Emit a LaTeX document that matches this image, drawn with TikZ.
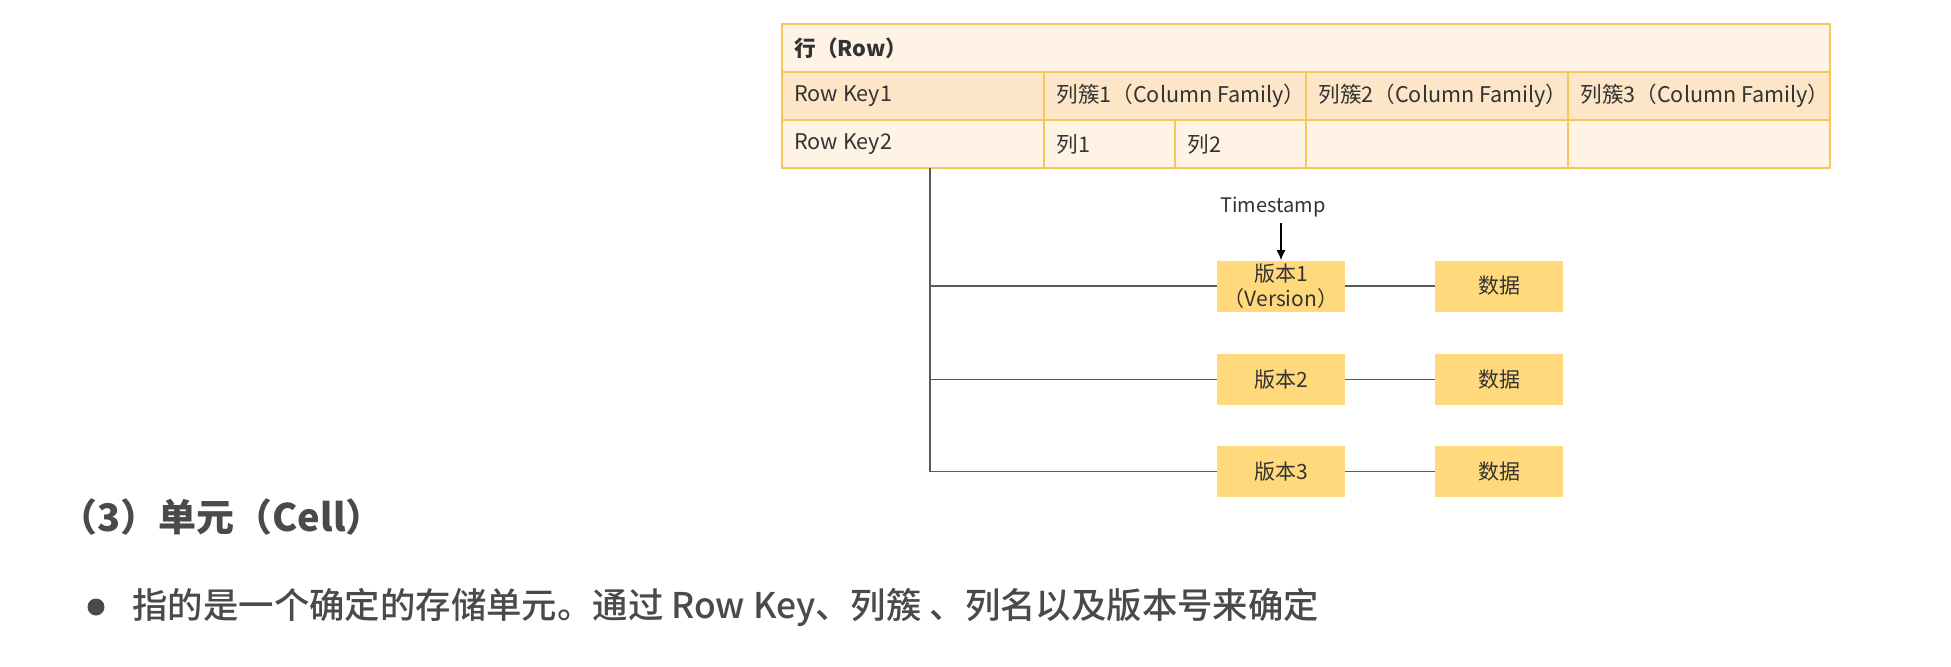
\documentclass[tikz,border=0pt]{standalone}
\usepackage{fontspec}
\setmainfont{Noto Sans CJK SC}
\newfontfamily\cjkmed{Noto Sans CJK SC Medium}
\usetikzlibrary{arrows.meta}
\definecolor{bord}{HTML}{F7C65A}
\definecolor{hdrfill}{HTML}{FFF3E6}
\definecolor{rkfill}{HTML}{FDE6C8}
\definecolor{vfill}{HTML}{FFD97C}
\definecolor{txt}{HTML}{333333}
\definecolor{lin}{HTML}{5A5A5A}
\definecolor{headc}{HTML}{4A4A4A}
\begin{document}
\begin{tikzpicture}[x=0.5pt,y=-0.5pt,
  font=\fontsize{10.8}{12}\selectfont, text=txt,
  cell/.style={draw=bord, line width=1pt, anchor=north west, minimum height=24pt, inner sep=0pt, outer sep=0pt},
  ctext/.style={anchor=west, inner sep=0pt},
  vbox/.style={fill=vfill, minimum width=64pt, minimum height=25.5pt, inner sep=1pt, align=center, font=\fontsize{10.5}{12.5}\selectfont},
  conn/.style={draw=lin, line width=0.85pt}]
\useasboundingbox (0,0) rectangle (1951,666);
% table
\node[cell, fill=hdrfill, minimum width=524pt] (hdr) at (782,24) {};
\node[cell, fill=rkfill, minimum width=131pt] (rk1) at (782,72) {};
\node[cell, fill=rkfill, minimum width=131pt] (cf1) at (1044,72) {};
\node[cell, fill=rkfill, minimum width=131pt] (cf2) at (1306,72) {};
\node[cell, fill=rkfill, minimum width=131pt] (cf3) at (1568,72) {};
\node[cell, fill=hdrfill, minimum width=131pt] (rk2) at (782,120) {};
\node[cell, fill=hdrfill, minimum width=65.5pt] (c1) at (1044,120) {};
\node[cell, fill=hdrfill, minimum width=65.5pt] (c2) at (1175,120) {};
\node[cell, fill=hdrfill, minimum width=131pt] (e2) at (1306,120) {};
\node[cell, fill=hdrfill, minimum width=131pt] (e3) at (1568,120) {};
\node[ctext, font=\bfseries\fontsize{10.8}{12}\selectfont] (hdrt) at ([xshift=6pt]hdr.west) {行（Row）};
\node[ctext] (rk1t) at ([xshift=6pt]rk1.west) {Row Key1};
\node[ctext] (cf1t) at ([xshift=6pt]cf1.west) {列簇1（Column Family）};
\node[ctext] (cf2t) at ([xshift=6pt]cf2.west) {列簇2（Column Family）};
\node[ctext] (cf3t) at ([xshift=6pt]cf3.west) {列簇3（Column Family）};
\node[ctext] (rk2t) at ([xshift=6pt]rk2.west) {Row Key2};
\node[ctext] (c1t) at ([xshift=6pt]c1.west) {列1};
\node[ctext] (c2t) at ([xshift=6pt]c2.west) {列2};
% versions
\node[vbox] (v1) at (1281,286) {版本1\\（Version）};
\node[vbox] (v2) at (1281,379.5) {版本2};
\node[vbox] (v3) at (1281,471.5) {版本3};
\node[vbox] (d1) at (1499,286) {数据};
\node[vbox] (d2) at (1499,379.5) {数据};
\node[vbox] (d3) at (1499,471.5) {数据};
\node[inner sep=0pt, font=\fontsize{10}{12}\selectfont] (ts) at (1273,207) {Timestamp};
\draw[line width=0.6pt, -{Latex[length=5pt,width=4.5pt]}] ([yshift=-3pt]ts.south -| v1.north) -- (v1.north);
\coordinate (tt) at (930,168);
\draw[conn] (tt) |- (v3.west);
\draw[conn] (tt |- v1.west) -- (v1.west);
\draw[conn] (tt |- v2.west) -- (v2.west);
\draw[conn] (v1.east) -- (d1.west);
\draw[conn] (v2.east) -- (d2.west);
\draw[conn] (v3.east) -- (d3.west);
% text
\node[anchor=west, inner sep=0pt, text=headc, font=\bfseries\fontsize{19}{21}\selectfont] (h3) at (59,517) {（3）单元（Cell）};
\node[circle, fill=headc, minimum size=8.5pt, inner sep=0pt] (bul) at (96,607) {};
\node[anchor=west, inner sep=0pt, text=headc, font=\cjkmed\fontsize{17.7}{20}\selectfont] (bt) at (132,607) {指的是一个确定的存储单元。通过 Row Key、列簇 、列名以及版本号来确定};
\end{tikzpicture}
\end{document}
